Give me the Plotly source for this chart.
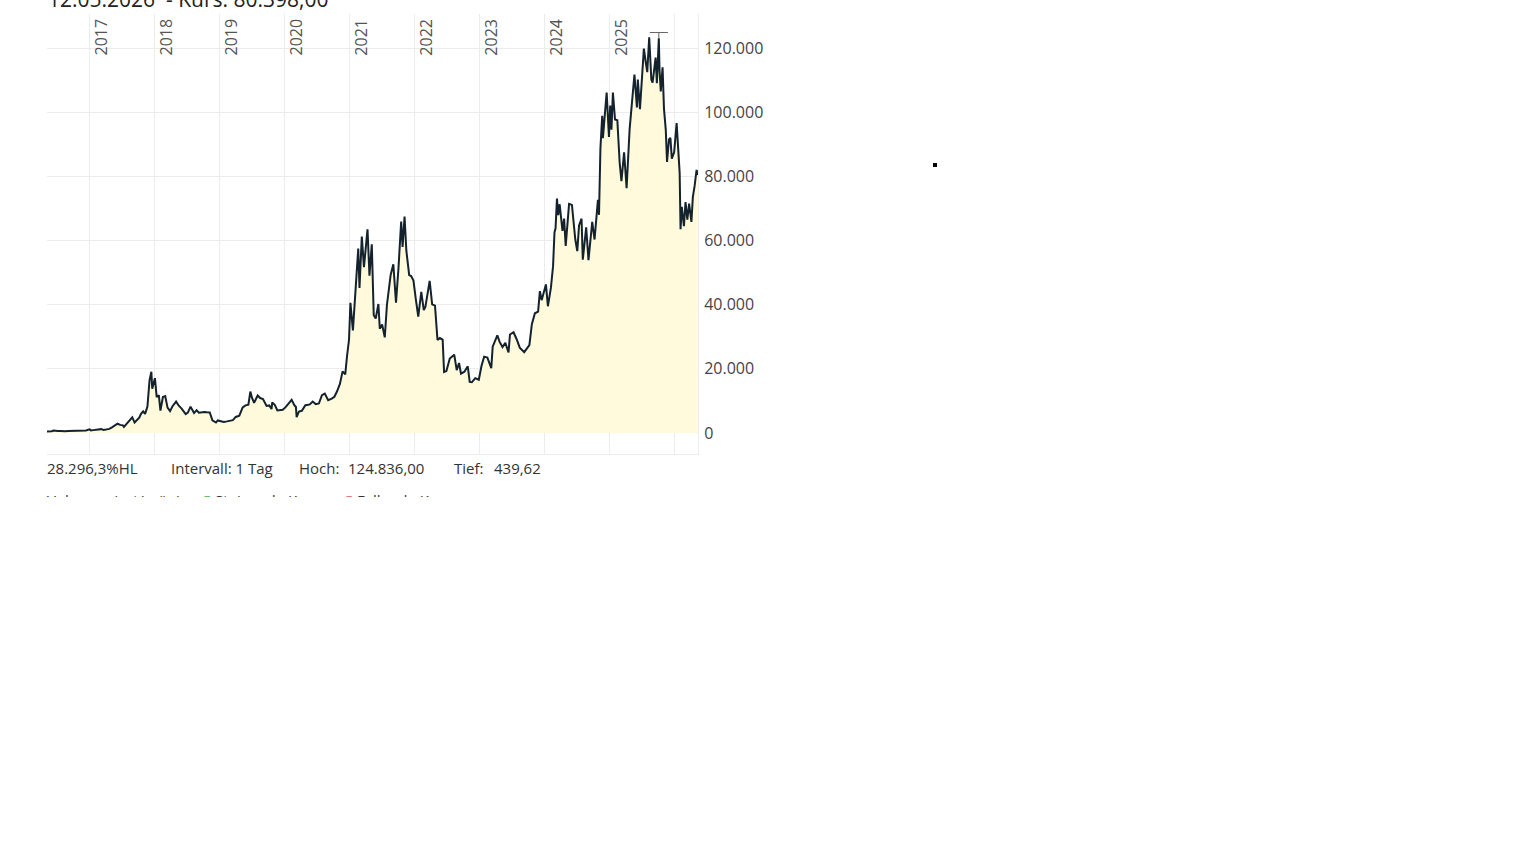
import plotly.graph_objects as go

# ---------------- data ----------------
DATES = [
    "2016-05-10", "2016-05-25", "2016-06-05", "2016-06-16", "2016-06-25", "2016-07-10", "2016-07-25",
    "2016-08-05", "2016-08-20", "2016-09-05", "2016-09-20", "2016-10-05", "2016-10-20", "2016-11-01",
    "2016-11-15", "2016-12-01", "2016-12-15",
    "2017-01-04", "2017-01-12", "2017-01-25", "2017-02-10", "2017-02-25", "2017-03-10", "2017-03-24",
    "2017-04-10", "2017-04-25", "2017-05-10", "2017-05-25", "2017-06-10", "2017-06-25", "2017-07-10",
    "2017-07-16", "2017-07-25", "2017-08-10", "2017-08-20", "2017-09-01", "2017-09-14", "2017-09-25",
    "2017-10-10", "2017-10-20", "2017-11-01", "2017-11-12", "2017-11-25", "2017-12-07", "2017-12-17",
    "2017-12-22",
    "2018-01-06", "2018-01-16", "2018-01-28", "2018-02-06", "2018-02-20", "2018-03-05", "2018-03-18",
    "2018-04-01", "2018-04-15", "2018-05-05", "2018-05-20", "2018-06-05", "2018-06-28", "2018-07-10",
    "2018-07-25", "2018-08-14", "2018-08-28", "2018-09-10", "2018-09-25", "2018-10-10", "2018-10-25",
    "2018-11-10", "2018-11-25", "2018-12-15", "2018-12-25",
    "2019-01-10", "2019-01-28", "2019-02-15", "2019-03-01", "2019-03-20", "2019-04-05", "2019-04-25",
    "2019-05-14", "2019-05-30", "2019-06-15", "2019-06-26", "2019-07-05", "2019-07-17", "2019-08-06",
    "2019-08-20", "2019-09-05", "2019-09-25", "2019-10-10", "2019-10-23", "2019-10-27", "2019-11-10",
    "2019-11-25", "2019-12-10", "2019-12-25",
    "2020-01-10", "2020-01-20", "2020-02-13", "2020-02-28", "2020-03-08", "2020-03-12", "2020-03-25",
    "2020-04-10", "2020-04-30", "2020-05-10", "2020-05-25", "2020-06-10", "2020-06-27", "2020-07-15",
    "2020-08-01", "2020-08-17", "2020-09-05", "2020-09-25", "2020-10-10", "2020-10-25", "2020-11-10",
    "2020-11-25", "2020-12-10", "2020-12-20", "2020-12-31",
    "2021-01-08", "2021-01-22", "2021-02-08", "2021-02-21", "2021-02-28", "2021-03-13", "2021-03-25",
    "2021-04-14", "2021-04-25", "2021-05-08", "2021-05-19", "2021-05-30", "2021-06-14", "2021-06-22",
    "2021-07-05", "2021-07-20", "2021-08-01", "2021-08-22", "2021-09-06", "2021-09-21", "2021-10-05",
    "2021-10-20", "2021-10-28", "2021-11-08", "2021-11-18", "2021-12-04", "2021-12-15", "2021-12-28",
    "2022-01-10", "2022-01-24", "2022-02-10", "2022-02-24", "2022-03-05", "2022-03-29", "2022-04-12",
    "2022-04-28", "2022-05-12", "2022-05-25", "2022-06-10", "2022-06-18", "2022-07-01", "2022-07-20",
    "2022-08-14", "2022-08-28", "2022-09-10", "2022-09-21", "2022-10-10", "2022-10-29", "2022-11-09",
    "2022-11-21", "2022-12-10", "2022-12-30",
    "2023-01-14", "2023-01-29", "2023-02-16", "2023-03-10", "2023-03-18", "2023-04-13", "2023-04-26",
    "2023-05-12", "2023-05-28", "2023-06-15", "2023-06-23", "2023-07-13", "2023-07-30", "2023-08-17",
    "2023-09-11", "2023-09-25", "2023-10-10", "2023-10-24", "2023-11-10", "2023-11-28", "2023-12-08",
    "2023-12-18",
    "2024-01-11", "2024-01-22", "2024-02-08", "2024-02-20", "2024-02-28", "2024-03-05", "2024-03-13",
    "2024-03-20", "2024-03-28", "2024-04-13", "2024-04-22", "2024-05-01", "2024-05-20", "2024-06-05",
    "2024-06-24", "2024-07-05", "2024-07-15", "2024-07-29", "2024-08-05", "2024-08-24", "2024-09-06",
    "2024-09-27", "2024-10-10", "2024-10-29", "2024-11-04", "2024-11-12", "2024-11-22", "2024-11-26",
    "2024-12-05", "2024-12-17", "2024-12-30",
    "2025-01-06", "2025-01-13", "2025-01-21", "2025-02-02", "2025-02-15", "2025-02-28", "2025-03-10",
    "2025-03-25", "2025-04-08", "2025-04-25", "2025-05-10", "2025-05-22", "2025-06-05", "2025-06-10",
    "2025-06-22", "2025-07-03", "2025-07-14", "2025-07-25", "2025-08-02", "2025-08-13", "2025-08-25",
    "2025-09-01", "2025-09-18", "2025-09-25", "2025-10-06", "2025-10-10", "2025-10-17", "2025-10-27",
    "2025-11-04", "2025-11-14", "2025-11-21", "2025-12-02", "2025-12-10", "2025-12-18", "2025-12-31",
    "2026-01-14", "2026-01-22", "2026-01-31", "2026-02-05", "2026-02-12", "2026-02-24", "2026-03-05",
    "2026-03-15", "2026-03-25", "2026-04-07", "2026-04-15", "2026-04-25", "2026-05-06", "2026-05-12",
]

CLOSES = [
    455, 447, 574, 760, 665, 650, 655,
    575, 580, 610, 610, 612, 630, 730,
    711, 752, 780,
    1130, 800, 890, 990, 1150, 1200, 940,
    1200, 1270, 1750, 2300, 2880, 2520, 2380,
    1930, 2570, 3400, 4150, 4900, 3250, 3900,
    4750, 6000, 6750, 5950, 8250, 16500, 19100,
    13800,
    17100, 11200, 11800, 7000, 11200, 11500, 7900,
    6800, 8350, 9800, 8500, 7600, 5900, 6350,
    8200, 6200, 7100, 6300, 6450, 6550, 6450,
    6400, 3950, 3250, 3900,
    3600, 3450, 3620, 3820, 4000, 5000, 5400,
    8000, 8600, 8800, 12900, 11000, 9400, 11700,
    10900, 10600, 8450, 8600, 7450, 9550, 8800,
    7050, 7250, 7250,
    8050, 8650, 10350, 8700, 8100, 4950, 6700,
    6900, 8650, 8750, 8900, 9800, 9000, 9200,
    11800, 12300, 10200, 10700, 11300, 13000, 15300,
    19200, 18300, 24000, 29000,
    40600, 32000, 46500, 57500, 45200, 61200, 51700,
    63500, 49000, 58800, 36700, 35700, 40200, 32500,
    33800, 29800, 39900, 49300, 52600, 40600, 51500,
    65900, 58000, 67500, 56900, 49200, 48900, 47500,
    41800, 36300, 44000, 38300, 39300, 47400, 40100,
    39700, 29000, 29600, 29100, 19000, 19300, 23200,
    24400, 19600, 21800, 18500, 19100, 20800, 15900,
    15800, 17100, 16600,
    20900, 23800, 23500, 20200, 26900, 30400, 28400,
    26800, 28100, 25100, 30700, 31400, 29300, 26600,
    25200, 26300, 27400, 33900, 37300, 37800, 44200,
    41400,
    46300, 39500, 45300, 52000, 62500, 63800, 73100,
    67900, 71300, 63000, 66800, 58300, 71400, 71100,
    60300, 56700, 64700, 66800, 54000, 64100, 53900,
    65800, 60300, 72700, 68000, 88700, 98900, 91900,
    98800, 106100, 92300,
    102100, 94500, 106100, 97700, 97500, 84300, 78500,
    87500, 76300, 94700, 104600, 111700, 101500, 110200,
    100900, 109600, 119800, 115400, 112500, 123300, 110100,
    109200, 117000, 109000, 123000, 113000, 106500, 114000,
    101000, 94500, 84500, 91500, 92000, 85500, 87500,
    96600, 89500, 81000, 63500, 70500, 64500, 72000,
    66500, 71500, 65800, 73500, 77000, 82000, 80398,
]

HIGH_DATE = "2025-10-06"
HIGH_VALUE = 124836

YEAR_GRID = ["2017-01-01", "2018-01-01", "2019-01-01", "2020-01-01", "2021-01-01",
             "2022-01-01", "2023-01-01", "2024-01-01", "2025-01-01", "2026-01-01"]
YEAR_LABELS = ["2017", "2018", "2019", "2020", "2021", "2022", "2023", "2024", "2025"]
Y_TICKS = [0, 20000, 40000, 60000, 80000, 100000, 120000]

HEADER_TEXT = "12.05.2026  - Kurs: 80.398,00"
STATS_TEXT = ["28.296,3%HL", "Intervall: 1 Tag", "Hoch:", "124.836,00", "Tief:", "439,62"]
LEGEND_TEXT = ["Volumen (rot/grün)", "Steigende Kurse", "Fallende Kurse"]

# ---------------- layout constants (pixels) ----------------
W, H = 1000, 497
L, R_EDGE, T, B_EDGE = 47, 698, 14, 454
PW, PH = R_EDGE - L, B_EDGE - T

FONT = "Open Sans, Noto Sans, sans-serif"
LINE_COLOR = "#13222c"
FILL_COLOR = "#fffadb"
GRID_COLOR = "#ececec"


def px_x(p):
    return (p - L) / PW


def px_y(p):
    return (B_EDGE - p) / PH


fig = go.Figure()

fig.add_trace(go.Scatter(
    x=DATES, y=CLOSES, mode="lines",
    line=dict(color=LINE_COLOR, width=2),
    fill="tozeroy", fillcolor=FILL_COLOR,
    hoverinfo="x+y", showlegend=False,
))

peak_close = CLOSES[DATES.index(HIGH_DATE)]
fig.add_trace(go.Scatter(
    x=[HIGH_DATE, HIGH_DATE], y=[peak_close, HIGH_VALUE], mode="lines",
    line=dict(color="#666666", width=1), hoverinfo="skip", showlegend=False,
))
fig.add_trace(go.Scatter(
    x=[HIGH_DATE], y=[HIGH_VALUE], mode="markers",
    marker=dict(symbol="line-ew", size=13, line=dict(color="#666666", width=1)),
    hoverinfo="skip", showlegend=False,
))

annotations = []
for d, lab in zip(YEAR_GRID, YEAR_LABELS):
    annotations.append(dict(
        x=d, xref="x", y=1, yref="paper", text=lab, showarrow=False,
        textangle=-90, xanchor="center", yanchor="top", xshift=11, yshift=-3,
        font=dict(family=FONT, size=16, color="#555555"),
    ))

annotations.append(dict(
    x=px_x(46), xref="paper", y=px_y(-1), yref="paper", text=HEADER_TEXT,
    showarrow=False, xanchor="left", yanchor="middle",
    font=dict(family=FONT, size=21, color="#222222"),
))

stat_x = [47, 171, 299, 348, 454, 494]
for sx, txt in zip(stat_x, STATS_TEXT):
    annotations.append(dict(
        x=px_x(sx - 2), xref="paper", y=px_y(468), yref="paper", text=txt,
        showarrow=False, xanchor="left", yanchor="middle",
        font=dict(family=FONT, size=15, color="#333333"),
    ))

legend_items = [
    (47, LEGEND_TEXT[0]),
    (203, "<span style='color:#1aa31a'>▮</span> " + LEGEND_TEXT[1]),
    (345, "<span style='color:#e03c3c'>▮</span> " + LEGEND_TEXT[2]),
]
for lx, txt in legend_items:
    annotations.append(dict(
        x=px_x(lx - 2), xref="paper", y=px_y(500), yref="paper", text=txt,
        showarrow=False, xanchor="left", yanchor="middle",
        font=dict(family=FONT, size=15, color="#333333"),
    ))

shapes = [dict(
    type="rect", xref="paper", yref="paper",
    x0=px_x(933), x1=px_x(937), y0=px_y(167), y1=px_y(163),
    fillcolor="#000000", line=dict(width=0),
)]

fig.update_layout(
    width=W, height=H,
    margin=dict(l=L, r=W - R_EDGE, t=T, b=H - B_EDGE, pad=0),
    paper_bgcolor="white", plot_bgcolor="white",
    separators=",.",
    font=dict(family=FONT, color="#444444"),
    showlegend=False,
    annotations=annotations,
    shapes=shapes,
    xaxis=dict(
        type="date", range=["2016-05-10", "2026-05-14"],
        tickvals=YEAR_GRID, showticklabels=False, ticks="",
        showgrid=True, gridcolor=GRID_COLOR, gridwidth=1,
        showline=True, linecolor=GRID_COLOR, linewidth=1, mirror=False,
        zeroline=False, fixedrange=True,
    ),
    yaxis=dict(
        side="right", range=[-6550, 130600],
        tickvals=Y_TICKS, tickformat=",d",
        tickfont=dict(family=FONT, size=16, color="#444444"),
        ticks="", ticklabelstandoff=2,
        showgrid=True, gridcolor=GRID_COLOR, gridwidth=1,
        showline=True, linecolor=GRID_COLOR, linewidth=1,
        zeroline=False, fixedrange=True,
    ),
)

fig.write_html("out.html", config={"displayModeBar": False},
               post_script="document.body.style.margin='0';")
